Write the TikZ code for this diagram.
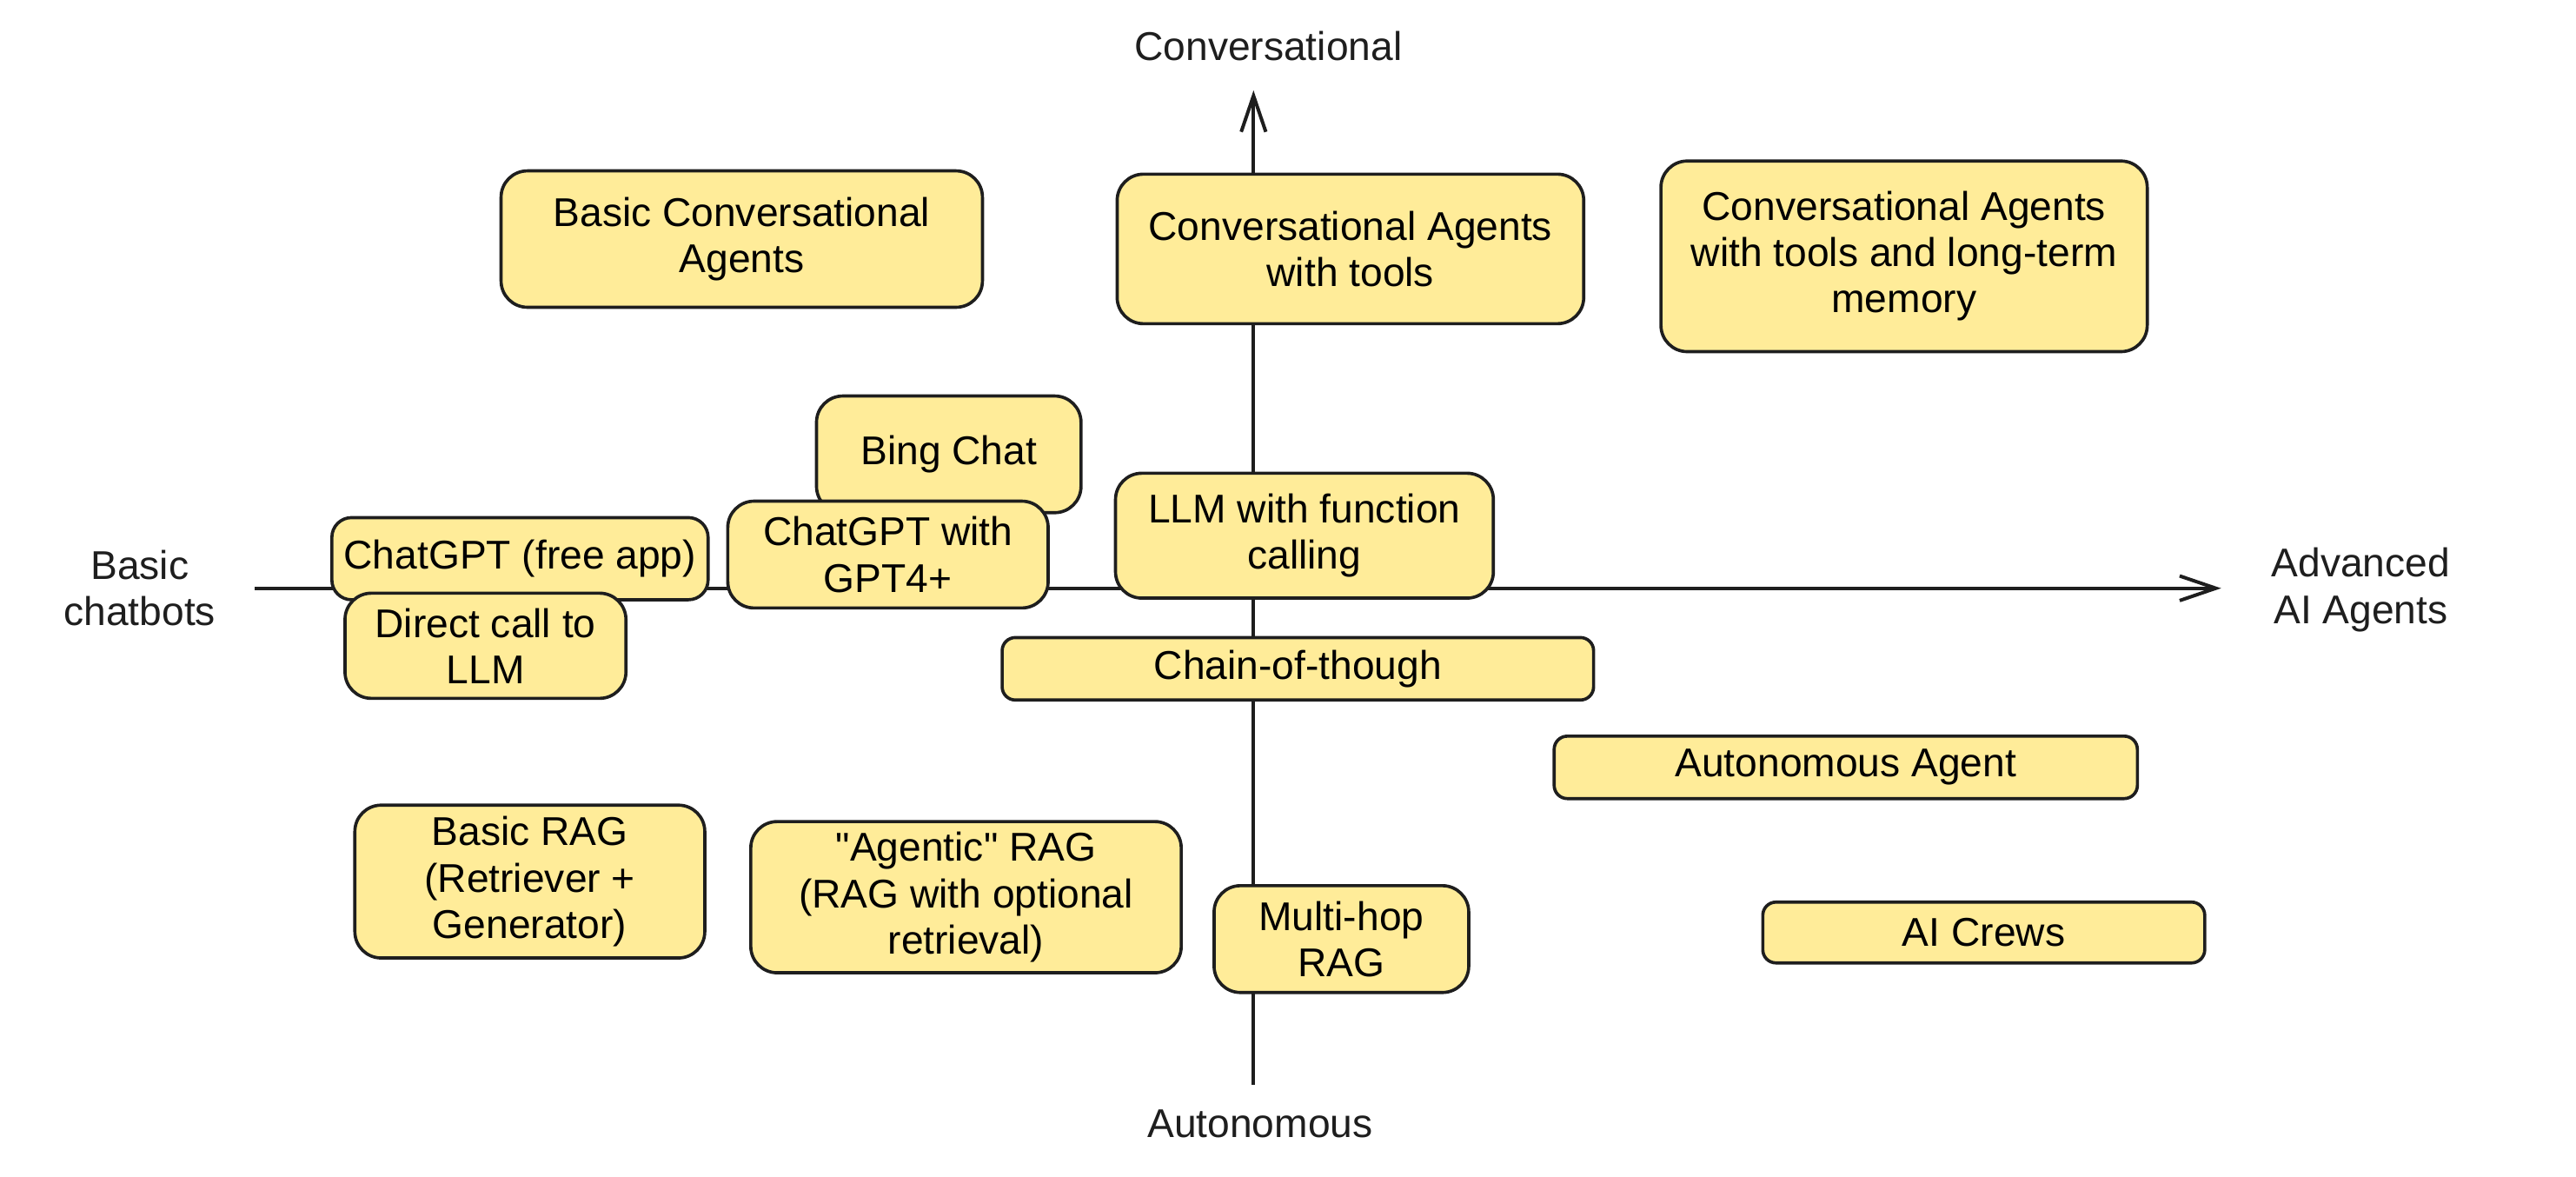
\documentclass[tikz,border=0pt]{standalone}
\usepackage{fontspec}
\setmainfont{Liberation Sans}
\usepackage{xcolor}
\usetikzlibrary{shapes,positioning,arrows.meta}
\definecolor{cardfill}{HTML}{FFEC99}
\definecolor{ink}{HTML}{1E1E1E}
\tikzset{card/.style={rectangle,draw=ink,fill=cardfill,line width=1.1pt,rounded corners=0.32cm,align=center,inner sep=0pt,font=\fontsize{13.9}{16}\selectfont},
  flat/.style={card,rounded corners=0.16cm},
  axislabel/.style={align=center,text=ink,font=\fontsize{13.9}{16}\selectfont}}

\begin{document}
\begin{tikzpicture}[>={Straight Barb[length=0.44cm,width=0.3cm,line width=1.2pt]}]
        \useasboundingbox (0,0) rectangle (31.36,14.32);
        \coordinate (top) at (15.26,13.22);
        \coordinate (bottom) at (15.26,1.12);
        \coordinate (left) at (3.1,7.16);
        \coordinate (right) at (27.04,7.16);

        \draw [ink,line width=1.3pt,->] (bottom) to []node[]{} (top);
        \draw [ink,line width=1.3pt,->] (left) to []node[]{} (right);

        \node[axislabel] (conv)at (15.44,13.76) {Conversational};
        \node[axislabel] (auton)at (15.34,0.64) {Autonomous};
        \node[axislabel] (basic)at (1.7,7.16) {Basic\\chatbots};
        \node[axislabel] (adv)at (28.74,7.14) {Advanced\\AI Agents};

        \node[card,minimum width=5.86cm,minimum height=1.66cm] (bca)at (9.03,11.41) {Basic Conversational\\Agents};
        \node[card,minimum width=5.68cm,minimum height=1.82cm] (cat)at (16.44,11.29) {Conversational Agents\\with tools};
        \node[card,minimum width=5.92cm,minimum height=2.32cm] (catm)at (23.18,11.2) {Conversational Agents\\with tools and long-term\\memory};
        \node[card,minimum width=3.22cm,minimum height=1.42cm] (bing)at (11.55,8.79) {Bing Chat};
        \node[card,rounded corners=0.24cm,minimum width=4.58cm,minimum height=1.0cm] (gptfree)at (6.33,7.52) {ChatGPT (free app)};
        \node[card,minimum width=3.9cm,minimum height=1.3cm] (gptfour)at (10.81,7.57) {ChatGPT with\\GPT4+};
        \node[card,minimum width=4.6cm,minimum height=1.52cm] (llmfc)at (15.88,7.8) {LLM with function\\calling};
        \node[card,minimum width=3.42cm,minimum height=1.28cm] (direct)at (5.91,6.46) {Direct call to\\LLM};
        \node[flat,minimum width=7.2cm,minimum height=0.76cm] (cot)at (15.8,6.18) {Chain-of-though};
        \node[flat,minimum width=7.1cm,minimum height=0.76cm] (autoag)at (22.47,4.98) {Autonomous Agent};
        \node[card,minimum width=4.26cm,minimum height=1.86cm] (brag)at (6.45,3.59) {Basic RAG\\(Retriever +\\Generator)};
        \node[card,minimum width=5.24cm,minimum height=1.84cm] (arag)at (11.76,3.4) {\textquotedbl Agentic\textquotedbl{} RAG\\(RAG with optional\\retrieval)};
        \node[card,minimum width=3.1cm,minimum height=1.3cm] (mhop)at (16.33,2.89) {Multi-hop\\RAG};
        \node[flat,minimum width=5.38cm,minimum height=0.74cm] (crews)at (24.15,2.97) {AI Crews};
    \end{tikzpicture}
\end{document}
